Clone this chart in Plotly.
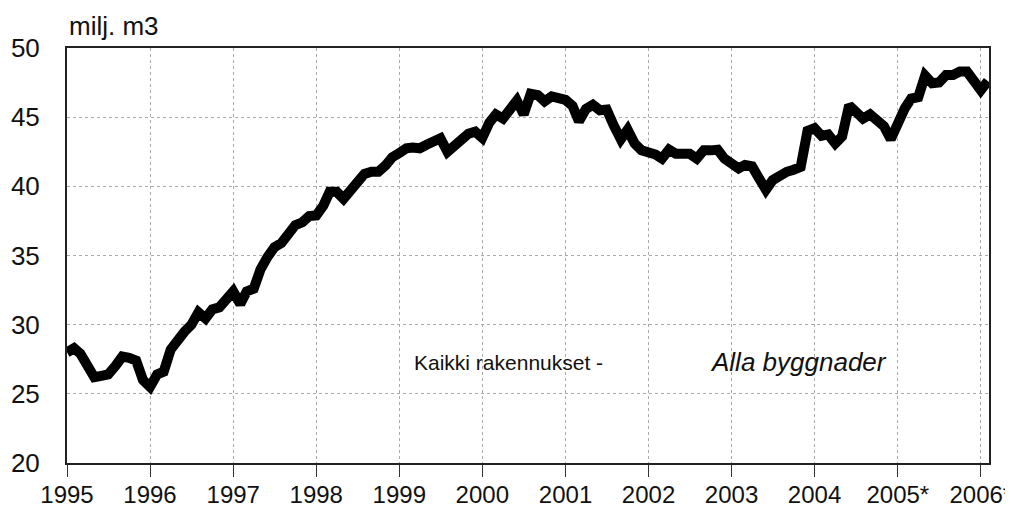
import pandas as pd
import plotly.graph_objects as go

# Monthly values, Jan 1995 .. Feb 2006 (milj. m3)
values = [
    28.0, 28.3, 27.9, 27.1, 26.2, 26.3, 26.4, 27.0, 27.7, 27.6, 27.4, 26.0,
    25.5, 26.4, 26.6, 28.2, 29.0, 29.5, 30.0, 30.9, 30.45, 31.1, 31.25, 31.8,
    32.4, 31.5, 32.4, 32.6, 34.0, 34.9, 35.6, 35.9, 36.7, 37.2, 37.4, 37.85,
    37.9, 38.6, 39.6, 39.6, 39.1, 39.7, 40.1, 40.9, 41.05, 41.05, 41.5, 42.1,
    42.4, 42.75, 42.8, 42.75, 43.0, 43.2, 43.47, 42.5, 42.9, 43.3, 43.8, 43.95,
    43.5, 44.6, 45.2, 44.9, 45.6, 46.2, 45.2, 46.7, 46.6, 46.15, 46.5, 46.45,
    46.25, 45.8, 44.7, 45.6, 45.9, 45.5, 45.55, 44.4, 43.4, 44.1, 43.1, 42.6,
    42.5, 42.3, 42.0, 42.65, 42.35, 42.3, 42.35, 42.0, 42.6, 42.6, 42.65, 42.0,
    41.65, 41.3, 41.55, 41.45, 40.6, 39.75, 40.45, 40.8, 41.05, 41.2, 41.4, 44.0,
    44.2, 43.65, 43.75, 43.1, 43.6, 45.85, 45.3, 44.9, 45.2, 44.7, 44.35, 43.4,
    44.7, 45.65, 46.35, 46.45, 48.0, 47.45, 47.5, 48.05, 48.05, 48.3, 48.3, 47.6,
    46.95, 47.6,
]
months = pd.date_range("1995-01-01", periods=len(values), freq="MS")

tick_years = [f"{y}-01-01" for y in range(1995, 2007)]
tick_labels = ["1995", "1996", "1997", "1998", "1999", "2000", "2001", "2002",
               "2003", "2004", "2005*", "2006*"]
y_ticks = [20, 25, 30, 35, 40, 45, 50]

FONT = "Liberation Sans, Arial, sans-serif"

fig = go.Figure()
fig.add_trace(go.Scatter(
    x=months, y=values, mode="lines",
    line=dict(color="black", width=10),
    hoverinfo="x+y", showlegend=False,
))

# the page body adds an 8px margin, so the figure is 8px smaller than the window
fig.update_layout(
    width=1005, height=501,
    margin=dict(l=59, r=24, t=40, b=46),
    paper_bgcolor="white", plot_bgcolor="white",
    font=dict(family=FONT, color="#111", size=24),
    xaxis=dict(
        range=["1995-01-01", "2006-02-06"],
        tickvals=tick_years, ticktext=tick_labels,
        ticks="outside", ticklen=12, tickwidth=1, tickcolor="#333",
        ticklabelstandoff=-3,
        showline=True, linecolor="#222", linewidth=2, mirror=True,
        showgrid=True, gridcolor="#aaa", gridwidth=1, griddash="dot",
        tickfont=dict(size=24, family=FONT, color="#111"),
        ticklabeloverflow="allow", automargin=False,
        zeroline=False,
    ),
    yaxis=dict(
        range=[20, 50],
        tickvals=y_ticks, ticktext=[str(v) for v in y_ticks],
        ticks="", ticklabelstandoff=20,
        showline=True, linecolor="#222", linewidth=2, mirror=True,
        showgrid=True, gridcolor="#aaa", gridwidth=1, griddash="dot",
        tickfont=dict(size=26, family=FONT, color="#111"),
        ticklabeloverflow="allow", automargin=False,
        zeroline=False,
    ),
    annotations=[
        dict(text="milj. m3", xref="paper", yref="paper", x=0.0, y=1.0,
             xanchor="left", yanchor="bottom", yshift=5, showarrow=False,
             font=dict(size=26, family=FONT, color="#111")),
        dict(text="Kaikki rakennukset -", xref="paper", yref="paper",
             x=0.374, y=0.243, xanchor="left", yanchor="middle",
             showarrow=False, font=dict(size=21, family=FONT, color="#111")),
        dict(text="<i>Alla byggnader</i>", xref="paper", yref="paper",
             x=0.695, y=0.243, xanchor="left", yanchor="middle",
             showarrow=False, font=dict(size=26, family=FONT, color="#111")),
    ],
)

fig.write_html("out.html")
